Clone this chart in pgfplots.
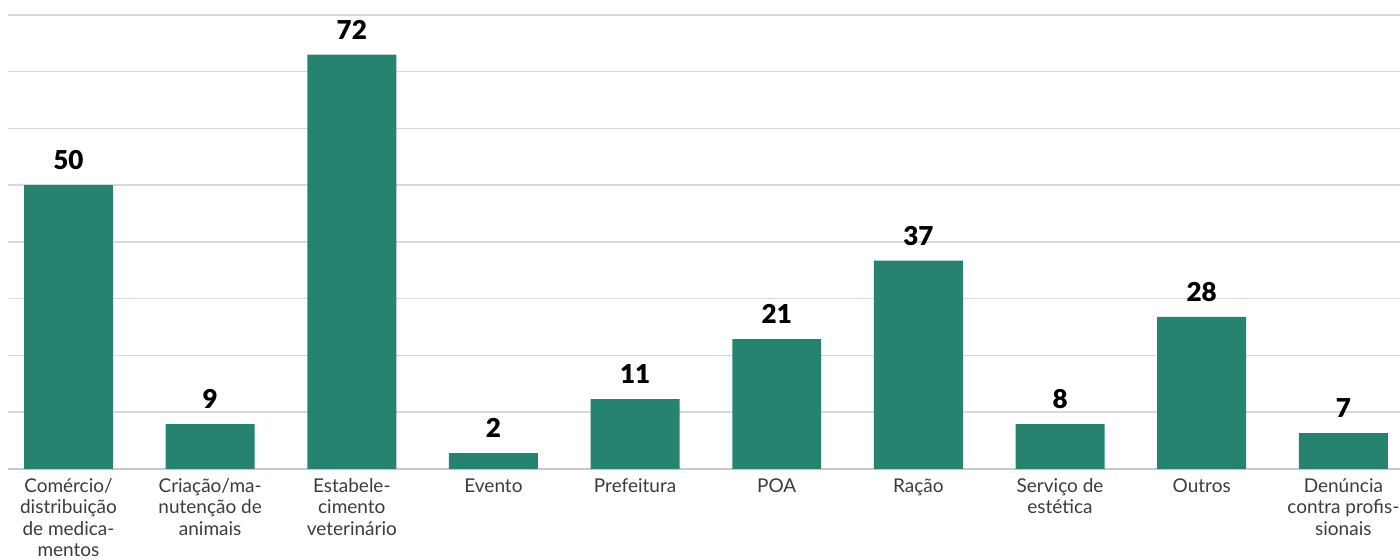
\documentclass[border=0pt]{standalone}
\usepackage{fontspec}
\setmainfont{Lato}
\newfontfamily\blk{Lato Black}
\usepackage{pgfplots}
\pgfplotsset{compat=1.18}
\usetikzlibrary{calc}
\definecolor{barc}{RGB}{37,131,112}
\definecolor{gridc}{RGB}{217,217,217}
\definecolor{basec}{RGB}{200,200,200}
\definecolor{tickc}{RGB}{60,60,60}
\begin{document}
\begin{tikzpicture}
\begin{axis}[name=ax, scale only axis, width=696pt, height=227pt,
  xmin=-0.427, xmax=9.40, ymin=0, ymax=80,
  axis line style={draw=none},
  ytick={10,20,...,80}, yticklabels={},
  ymajorgrids, grid style={gridc, line width=0.75pt},
  major tick length=0pt,
  extra y ticks={0}, extra y tick labels={},
  extra y tick style={grid style={basec, line width=1.3pt}},
  xtick={0,...,9},
  xticklabels={{Comércio/\\distribuição\\de medica-\\mentos},{Criação/ma-\\nutenção de\\animais},{Estabele-\\cimento\\veterinário},Evento,Prefeitura,POA,Ração,{Serviço de\\estética},Outros,{Denúncia\\contra profis-\\sionais}},
  xticklabel style={align=center, font=\fontsize{9.5}{10.7}\selectfont, text=tickc, anchor=north, inner sep=0pt, yshift=-4.6pt},
  ybar, bar width=0.628, bar shift=0pt,
  nodes near coords, point meta=explicit symbolic,
  nodes near coords style={font=\fontsize{13}{13}\blk, text=black, anchor=south, inner sep=0pt, yshift=7.5pt},
  clip=false]
\addplot[fill=barc, draw=none] table[meta=label] {
x y label
0 50 50
1 7.9 9
2 73 72
3 2.8 2
4 12.3 11
5 22.9 21
6 36.7 37
7 7.9 8
8 26.8 28
9 6.3 7
};
\end{axis}
\pgfresetboundingbox
\path[use as bounding box] ($(ax.south west)+(-4pt,-45.5pt)$) rectangle ($(ax.north east)+(0pt,7.5pt)$);
\end{tikzpicture}
\end{document}
